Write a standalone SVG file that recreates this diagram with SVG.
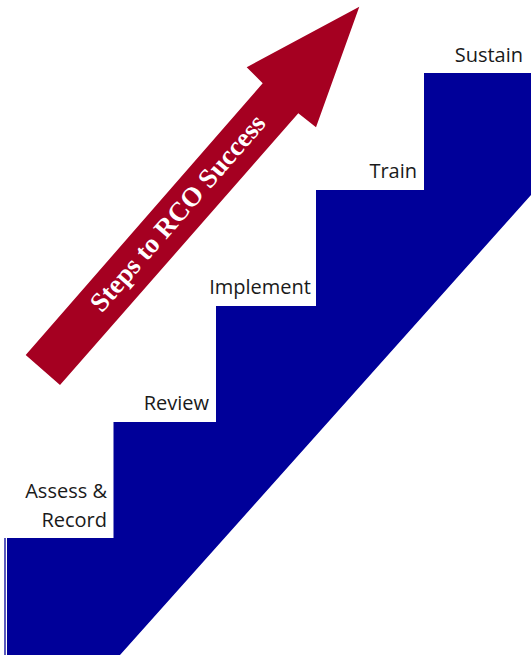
<svg xmlns="http://www.w3.org/2000/svg" width="531" height="655" viewBox="0 0 531 655">
<style>
.lbl{font-family:"Open Sans","DejaVu Sans",sans-serif;font-size:20px;fill:#1a1a1a;text-anchor:end}
.stair{fill:#000099}
.arrow{fill:#A50021}
.atext{font-family:"Liberation Serif","Times New Roman",serif;font-weight:bold;font-size:27px;fill:#fff;text-anchor:middle}
</style>
<rect width="531" height="655" fill="#fff"/>
<g id="staircase">
<polygon class="stair" points="7,538 113.5,538 113.5,422 216,422 216,306 316,306 316,190 424,190 424,73 531,73 531,195 120,655 7,655"/>
<line x1="5" y1="538" x2="5" y2="655" stroke="#000099" stroke-width="1.3"/>
</g>
<g id="arrow">
<polygon class="arrow" points="25.7,355 262.7,83.3 246.7,67.3 359.3,6.7 316,127.3 298.3,113.3 60,385"/>
<text class="atext" transform="translate(184.4,218.8) rotate(-48.9)">Steps to RCO Success</text>
</g>
<g id="step-assess"><text class="lbl" x="107" y="498">Assess &amp;</text><text class="lbl" x="107" y="527">Record</text></g>
<g id="step-review"><text class="lbl" x="209" y="410">Review</text></g>
<g id="step-implement"><text class="lbl" x="311" y="294">Implement</text></g>
<g id="step-train"><text class="lbl" x="417" y="178">Train</text></g>
<g id="step-sustain"><text class="lbl" x="523" y="62">Sustain</text></g>
<g id="connectors"/>
</svg>
